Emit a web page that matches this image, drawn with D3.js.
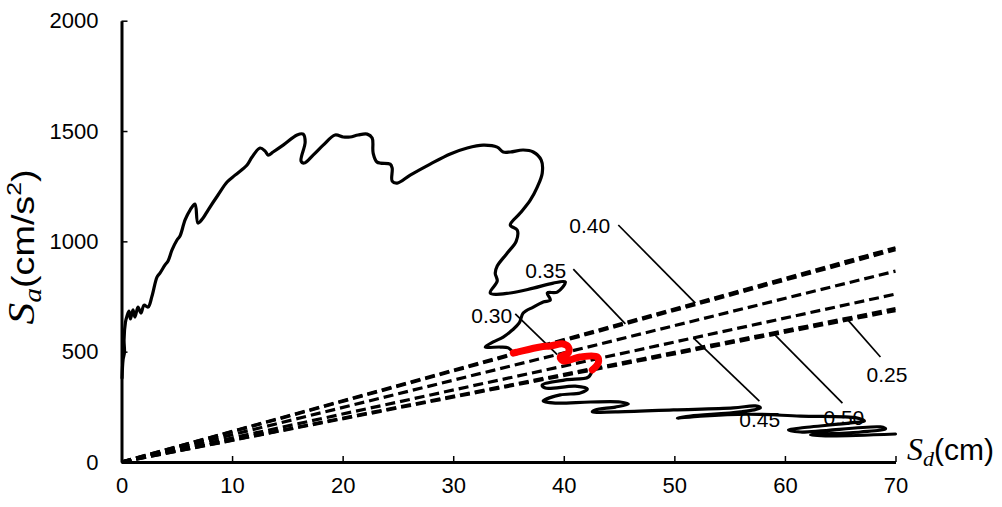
<!DOCTYPE html>
<html><head><meta charset="utf-8">
<script src="https://cdn.jsdelivr.net/npm/d3@7"></script>
<style>body{margin:0;background:#fff}</style>
</head><body>
<svg id="chart" width="1002" height="507"></svg>
<script>
// Capacity / response trajectory: spectral displacement Sd (cm) vs spectral acceleration Sa (cm/s²)
const pathSd = [0.05,0.14,0.27,0.23,0.36,0.50,0.68,0.81,1.04,1.22,1.49,1.76,2.04,2.40,2.76,3.21,3.48,3.94,4.21,4.57,5.02,5.29,5.75,6.20,6.65,6.92,7.38,7.83,8.73,9.55,10.27,11.36,11.81,12.53,12.99,13.26,13.71,14.62,15.88,16.43,16.61,16.24,16.52,17.33,18.24,19.32,20.05,20.68,21.40,22.22,22.67,22.76,23.12,24.30,24.48,24.48,24.93,26.11,27.92,29.73,31.27,32.71,33.98,34.52,35.16,36.33,37.24,37.96,38.05,37.60,36.97,36.06,35.16,35.79,35.70,34.89,33.98,33.80,33.98,33.35,35.16,37.24,39.05,40.14,39.41,38.51,38.78,38.14,37.24,36.33,35.97,35.34,34.52,33.62,32.90,34.25,34.98,35.43];
const pathSa = [381,462,498,553,634,662,684,648,689,657,702,675,711,702,752,838,856,893,911,961,1006,1024,1097,1142,1169,1083,1106,1142,1210,1269,1300,1346,1382,1423,1409,1391,1405,1436,1482,1486,1450,1364,1355,1391,1436,1482,1473,1473,1482,1486,1468,1400,1359,1350,1332,1273,1264,1300,1350,1396,1423,1436,1427,1405,1405,1414,1405,1368,1309,1246,1187,1128,1074,1051,1001,947,888,856,820,766,766,788,811,816,770,766,734,725,702,675,630,598,566,544,521,521,517,494];

// Highlighted segment
const hiSd = [35.43,35.79,37.87,38.78,39.95,40.41,40.41,39.68,39.95,41.49,43.03,43.12,42.58];
const hiSa = [494,498,521,526,535,521,494,476,458,476,476,449,417];

// Remaining trajectory after the highlighted segment
const tailSd = [42.58,42.22,40.14,38.05,38.33,41.04,42.13,41.49,39.68,38.14,39.23,42.40,45.11,45.84,44.66,42.85,42.58,44.66,49.91,55.34,57.33,57.78,55.97,51.45,50.27,52.35,56.61,61.40,66.56,67.19,65.93,61.40,60.32,61.40,68.64,69.10,66.83,62.31,64.12,70.00];
const tailSa = [417,385,372,349,335,344,331,313,304,276,267,272,272,263,249,236,227,227,236,245,254,245,227,208,199,208,217,208,199,186,177,154,145,136,159,150,136,122,118,127];

// Radial demand lines through the origin, given by Sa reached at Sd = 70 cm
const rayNames = ["0.25", "0.30", "0.35", "0.40", "0.45", "0.50"];
const raySaAt70 = [695, 865, 962, 971, 761, 686];

// Label anchors and leader lines (leader runs from label to the matching ray)
const labelSd = [67.38, 31.63, 36.52, 40.50, 55.88, 63.48];
const labelSa = [362, 630, 834, 1038, 159, 168];
const leaderFromSd = [68.64, 35.61, 40.86, 44.93, 57.69, 65.20];
const leaderFromSa = [476, 671, 874, 1074, 276, 267];
const leaderToSd = [65.57, 39.41, 45.57, 51.90, 51.72, 59.05];

const xTicks = [0, 10, 20, 30, 40, 50, 60, 70];
const yTicks = [0, 500, 1000, 1500, 2000];

const svg = d3.select("#chart");
const x = d3.scaleLinear().domain([0, 70]).range([121.5, 895.5]);
const y = d3.scaleLinear().domain([0, 2000]).range([462, 20.7]);
const sans = "'Liberation Sans', Arial, sans-serif";
const serif = "'Liberation Serif', 'Times New Roman', serif";

// demand rays
const rays = rayNames.map((n, i) => ({name: n, pts: [[0, 0], [70, raySaAt70[i]]], slope: raySaAt70[i] / 70}));
const line = d3.line().x(d => x(d[0])).y(d => y(d[1]));
svg.append("g").selectAll("path").data(rays).join("path")
  .attr("d", d => line(d.pts))
  .attr("fill", "none").attr("stroke", "#000")
  .attr("stroke-width", 3.2).attr("stroke-dasharray", "10,5");

// labels and leaders
const labels = rays.map((r, i) => ({
  name: r.name, lx: labelSd[i], ly: labelSa[i],
  fx: leaderFromSd[i], fy: leaderFromSa[i], tx: leaderToSd[i], ty: leaderToSd[i] * r.slope
}));
svg.append("g").selectAll("line").data(labels).join("line")
  .attr("x1", d => x(d.fx)).attr("y1", d => y(d.fy))
  .attr("x2", d => x(d.tx)).attr("y2", d => y(d.ty))
  .attr("stroke", "#000").attr("stroke-width", 1.7);
svg.append("g").selectAll("text").data(labels).join("text")
  .attr("x", d => x(d.lx)).attr("y", d => y(d.ly))
  .attr("font-family", sans).attr("font-size", 21)
  .text(d => d.name);

// trajectory
const curve = d3.line().x(d => x(d[0])).y(d => y(d[1])).curve(d3.curveCatmullRom.alpha(0.5));
const zip = (a, b) => a.map((v, i) => [v, b[i]]);
svg.append("path").attr("d", curve(zip(pathSd, pathSa)))
  .attr("fill", "none").attr("stroke", "#000").attr("stroke-width", 3.2)
  .attr("stroke-linejoin", "round").attr("stroke-linecap", "round");
svg.append("path").attr("d", curve(zip(tailSd, tailSa)))
  .attr("fill", "none").attr("stroke", "#000").attr("stroke-width", 3.2)
  .attr("stroke-linejoin", "round").attr("stroke-linecap", "round");
svg.append("path").attr("d", curve(zip(hiSd, hiSa)))
  .attr("fill", "none").attr("stroke", "#ff0000").attr("stroke-width", 7)
  .attr("stroke-linejoin", "round").attr("stroke-linecap", "round");

// axes
const xAxis = svg.append("g").attr("transform", `translate(0,${y(0)})`)
  .call(d3.axisBottom(x).tickValues(xTicks).tickFormat(d3.format("d"))
    .tickSizeInner(-6).tickSizeOuter(0).tickPadding(15));
const yAxis = svg.append("g").attr("transform", `translate(${x(0)},0)`)
  .call(d3.axisLeft(y).tickValues(yTicks).tickFormat(d3.format("d"))
    .tickSizeInner(-6).tickSizeOuter(0).tickPadding(23));
[xAxis, yAxis].forEach(g => {
  g.select(".domain").attr("stroke", "#000").attr("stroke-width", 3);
  g.selectAll(".tick line").attr("stroke", "#000").attr("stroke-width", 1.5);
  g.selectAll(".tick text").attr("font-family", sans).attr("font-size", 22).attr("fill", "#000");
});

// axis titles
const xt = svg.append("text").attr("x", 907).attr("y", 460).attr("fill", "#000");
xt.append("tspan").attr("font-family", serif).attr("font-style", "italic").attr("font-size", 32).text("S");
xt.append("tspan").attr("font-family", serif).attr("font-style", "italic").attr("font-size", 22).attr("dy", 6).text("d");
xt.append("tspan").attr("font-family", sans).attr("font-size", 30).attr("dy", -6).text("(cm)");

const yt = svg.append("text").attr("transform", "translate(34,247) rotate(-90) scale(1.18,1)")
  .attr("text-anchor", "middle").attr("fill", "#000");
yt.append("tspan").attr("font-family", serif).attr("font-style", "italic").attr("font-size", 37).text("S");
yt.append("tspan").attr("font-family", serif).attr("font-style", "italic").attr("font-size", 25).attr("dy", 7).text("a");
yt.append("tspan").attr("font-family", sans).attr("font-size", 32).attr("dy", -7).text("(cm/s");
yt.append("tspan").attr("font-family", sans).attr("font-size", 21).attr("dy", -13).text("2");
yt.append("tspan").attr("font-family", sans).attr("font-size", 32).attr("dy", 13).text(")");
</script>
</body></html>
